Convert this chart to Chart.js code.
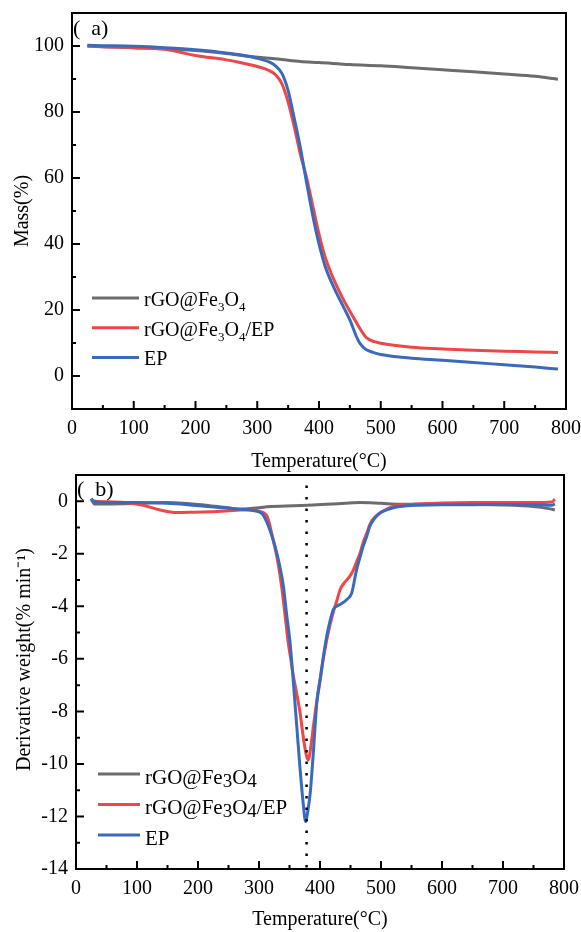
<!DOCTYPE html>
<html>
<head>
<meta charset="utf-8">
<script src="https://cdn.jsdelivr.net/npm/chart.js@4.4.1/dist/chart.umd.min.js"></script>
<style>
  body { margin: 0; background: #fff; }
  canvas { position: absolute; left: 0; }
  #tga { top: 0; }
  #dtg { top: 462px; }
</style>
</head>
<body>
<canvas id="tga" width="581" height="474"></canvas>
<canvas id="dtg" width="581" height="470"></canvas>
<script>
// ---- data ----
const seriesNames = ['rGO@Fe₃O₄', 'rGO@Fe₃O₄/EP', 'EP']
const xTicks = [0, 100, 200, 300, 400, 500, 600, 700, 800]
const massTicks = [0, 20, 40, 60, 80, 100]
const dtgTicks = [-14, -12, -10, -8, -6, -4, -2, 0]
const peakTemp = 378

// (a) TGA
const tgaTempGrey = [25, 50, 100, 150, 200, 250, 290, 320, 340, 370, 400, 450, 500, 550, 600, 650, 700, 750, 787]
const tgaGrey = [100, 99.8, 99.5, 99.2, 98.6, 97.7, 96.8, 96.3, 95.9, 95.3, 95.0, 94.4, 94.0, 93.4, 92.8, 92.2, 91.5, 90.8, 89.9]

const tgaTempRed = [25, 50, 100, 150, 175, 200, 250, 272, 300, 320, 330, 340, 350, 360, 370, 380, 390, 400, 410, 420, 430, 440, 450, 460, 465, 470, 475, 480, 485, 490, 500, 550, 600, 650, 700, 750, 787]
const tgaRed = [100, 99.8, 99.5, 99.0, 98.1, 97.1, 95.8, 95.0, 93.8, 92.5, 91.2, 88.5, 83, 75.5, 67, 60, 51.5, 43, 36, 31, 26.8, 23, 19.6, 16.4, 14.8, 13.3, 12.0, 11.2, 10.7, 10.4, 9.9, 8.7, 8.2, 7.8, 7.5, 7.3, 7.1]

const tgaTempBlue = [25, 50, 100, 150, 200, 250, 300, 320, 330, 340, 350, 360, 370, 380, 390, 400, 410, 420, 430, 440, 450, 455, 460, 465, 470, 475, 480, 490, 500, 550, 600, 650, 700, 750, 787]
const tgaBlue = [100.2, 100.1, 99.9, 99.5, 98.9, 97.9, 96.3, 95.1, 93.9, 91.7, 86.5, 78, 69, 58.5, 48.5, 40, 33.2, 28.5, 24.5, 20.8, 17, 14.6, 12.2, 10.3, 9.0, 8.2, 7.7, 7.0, 6.5, 5.4, 4.8, 4.1, 3.4, 2.7, 2.1]

// (b) DTG
const dtgTempGrey = [25, 27, 30, 60, 100, 150, 200, 250, 270, 290, 320, 380, 430, 465, 500, 530, 600, 650, 700, 750, 775, 785]
const dtgGrey = [0.1, 0.0, -0.1, -0.1, -0.08, -0.05, -0.12, -0.25, -0.3, -0.27, -0.2, -0.15, -0.09, -0.05, -0.08, -0.11, -0.11, -0.12, -0.14, -0.2, -0.28, -0.33]

const dtgTempRed = [25, 30, 50, 80, 110, 138, 165, 190, 220, 250, 269, 290, 300, 313, 323, 330, 337, 343, 348, 352, 356, 360, 364, 367, 371, 374, 378, 381, 384, 389, 393, 397, 401, 405, 410, 416, 422, 428, 433, 440, 449, 455, 460, 466, 471, 477, 482, 490, 503, 520, 550, 600, 650, 700, 750, 780, 785]
const dtgRed = [0.05, 0.0, -0.02, -0.05, -0.15, -0.33, -0.43, -0.42, -0.4, -0.36, -0.33, -0.33, -0.38, -0.56, -1.45, -2.2, -3.23, -4.4, -5.4, -6.0, -6.6, -7.1, -7.6, -8.0, -8.7, -9.2, -9.7, -9.85, -9.5, -8.6, -7.9, -7.3, -6.7, -6.05, -5.4, -4.75, -4.2, -3.75, -3.36, -3.1, -2.85, -2.6, -2.3, -1.95, -1.55, -1.2, -0.87, -0.6, -0.38, -0.2, -0.12, -0.07, -0.05, -0.05, -0.05, -0.03, 0.08]

const dtgTempBlue = [25, 28, 35, 50, 100, 150, 192, 240, 270, 290, 300, 306, 313, 318, 323, 329, 334, 340, 345, 351, 355, 362, 367, 372, 376.5, 380, 384, 389, 395, 400, 405, 411, 416, 422, 427, 435, 444, 452, 460, 466, 471, 477, 482, 488, 493, 500, 509, 520, 531, 560, 600, 650, 700, 750, 780, 785]
const dtgBlue = [0.1, 0.02, -0.03, -0.05, -0.05, -0.08, -0.15, -0.25, -0.3, -0.35, -0.4, -0.5, -0.8, -1.1, -1.45, -1.95, -2.47, -3.23, -4.25, -5.4, -6.5, -8.6, -10.1, -11.4, -12.2, -11.8, -11.1, -9.6, -7.6, -6.8, -6.0, -5.14, -4.6, -4.12, -4.0, -3.9, -3.74, -3.49, -2.6, -2.1, -1.7, -1.3, -0.94, -0.7, -0.56, -0.42, -0.33, -0.25, -0.2, -0.15, -0.13, -0.13, -0.12, -0.13, -0.15, -0.1]

// ---- styling ----
const FONT = '"Liberation Serif", "Times New Roman", serif'
const GREY = 'rgb(108,108,110)'
const RED = 'rgb(240,70,72)'
const BLUE = 'rgb(58,106,190)'

function points(temps, vals) {
  return temps.map((t, i) => ({ x: t, y: vals[i] }))
}

function lineSet(label, color, temps, vals, order) {
  return {
    label, order,
    data: points(temps, vals),
    borderColor: color,
    borderWidth: 3,
    pointRadius: 0,
    cubicInterpolationMode: 'monotone',
    fill: false
  }
}

// draws label text, turning unicode subscripts into lowered small digits
function drawLabel(ctx, text, x, y, o) {
  ctx.textBaseline = 'alphabetic'
  for (const ch of text) {
    const code = ch.charCodeAt(0)
    const sub = code >= 0x2080 && code <= 0x2089
    const c = sub ? String.fromCharCode(code - 0x2080 + 48) : ch
    ctx.font = (sub ? o.subSize : o.size) + 'px ' + FONT
    ctx.fillText(c, x, sub ? y + o.subShift : y)
    x += ctx.measureText(c).width
  }
}

// box around plot, inward ticks, panel tag and the legend inside the plot
const frame = {
  id: 'frame',
  afterDraw(chart, args, o) {
    const { ctx, chartArea: a, scales } = chart
    ctx.save()
    ctx.strokeStyle = '#000'
    ctx.lineWidth = 2

    // inward tick marks, long on labelled values
    ctx.beginPath()
    scales.x.ticks.forEach(t => {
      const px = scales.x.getPixelForValue(t.value)
      const len = o.xMajor.includes(t.value) ? 8 : 4
      ctx.moveTo(px, a.bottom)
      ctx.lineTo(px, a.bottom - len)
    })
    scales.y.ticks.forEach(t => {
      const py = scales.y.getPixelForValue(t.value)
      const len = o.yMajor.includes(t.value) ? 8 : 4
      ctx.moveTo(a.left, py)
      ctx.lineTo(a.left + len, py)
    })
    ctx.stroke()

    ctx.strokeRect(a.left, a.top, a.right - a.left, a.bottom - a.top)

    ctx.fillStyle = '#000'
    ctx.font = '22px ' + FONT
    ctx.textBaseline = 'middle'
    ctx.fillText(o.tag, a.left + 1, a.top + o.tagY)

    let row = 0
    chart.data.datasets.forEach(ds => {
      if (!ds.label) return
      const y = a.top + o.legY + row * o.legGap
      ctx.strokeStyle = ds.borderColor
      ctx.lineWidth = 3
      ctx.beginPath()
      ctx.moveTo(a.left + o.legX, y)
      ctx.lineTo(a.left + o.legX + o.legLen, y)
      ctx.stroke()
      drawLabel(ctx, ds.label, a.left + o.legX + o.legLen + 5, y + o.base, o)
      row++
    })
    ctx.restore()
  }
}

function xAxis(height) {
  return {
    type: 'linear', min: 0, max: 800,
    ticks: {
      stepSize: 50, padding: 8, color: '#000', autoSkip: false, maxRotation: 0,
      font: { family: FONT, size: 20 },
      callback: v => xTicks.includes(v) ? v : ''
    },
    grid: { drawOnChartArea: false, drawTicks: false },
    border: { color: '#000', width: 2 },
    title: {
      display: true, text: 'Temperature(°C)', color: '#000',
      font: { family: FONT, size: 20 }, padding: { top: 0, bottom: 0 }
    },
    afterFit: s => { s.height = height; s.paddingLeft = 0; s.paddingRight = 0 }
  }
}

function yAxis(min, max, step, labels, title, width, titlePad) {
  return {
    min, max,
    ticks: {
      stepSize: step, padding: 8, color: '#000', autoSkip: false,
      font: { family: FONT, size: 20 },
      callback: v => labels.includes(v) ? v : ''
    },
    grid: { drawOnChartArea: false, drawTicks: false },
    border: { color: '#000', width: 2 },
    title: {
      display: true, text: title, color: '#000',
      font: { family: FONT, size: 20 }, padding: { top: titlePad, bottom: 0 }
    },
    afterFit: s => { s.width = width; s.paddingTop = 0; s.paddingBottom = 0 }
  }
}

const baseOpts = {
  responsive: false,
  animation: false,
  devicePixelRatio: 1
}

// ================= (a) TGA =================
new Chart(document.getElementById('tga'), {
  type: 'line',
  data: {
    datasets: [
      lineSet(seriesNames[0], GREY, tgaTempGrey, tgaGrey, 3),
      lineSet(seriesNames[1], RED, tgaTempRed, tgaRed, 2),
      lineSet(seriesNames[2], BLUE, tgaTempBlue, tgaBlue, 1)
    ]
  },
  options: {
    ...baseOpts,
    layout: { padding: { top: 13, right: 15, left: 0, bottom: 0 } },
    scales: {
      x: xAxis(65),
      y: yAxis(-10, 110, 10, massTicks, 'Mass(%)', 72, 11)
    },
    plugins: {
      legend: { display: false },
      tooltip: { enabled: false },
      frame: {
        xMajor: xTicks, yMajor: massTicks,
        tag: '(  a)', tagY: 16, legX: 20, legLen: 47, legY: 285, legGap: 29.7, base: 8, size: 20, subSize: 13, subShift: 5
      }
    }
  },
  plugins: [frame]
})

// ================= (b) DTG =================
new Chart(document.getElementById('dtg'), {
  type: 'line',
  data: {
    datasets: [
      lineSet(seriesNames[0], GREY, dtgTempGrey, dtgGrey, 3),
      lineSet(seriesNames[1], RED, dtgTempRed, dtgRed, 2),
      lineSet(seriesNames[2], BLUE, dtgTempBlue, dtgBlue, 1),
      {
        label: '', order: 0,
        data: [{ x: peakTemp, y: 0.6 }, { x: peakTemp, y: -14 }],
        borderColor: '#000', borderWidth: 2.5, borderDash: [2.5, 9],
        pointRadius: 0, fill: false
      }
    ]
  },
  options: {
    ...baseOpts,
    layout: { padding: { top: 13, right: 17, left: 0, bottom: 0 } },
    scales: {
      x: xAxis(63),
      y: yAxis(-14, 1, 1, dtgTicks, '     Derivative weight(% min⁻¹)', 76, 13)
    },
    plugins: {
      legend: { display: false },
      tooltip: { enabled: false },
      frame: {
        xMajor: xTicks, yMajor: dtgTicks,
        tag: '(  b)', tagY: 15, legX: 22, legLen: 42, legY: 299, legGap: 30.5, base: 9.5, size: 21, subSize: 19, subShift: 3
      }
    }
  },
  plugins: [frame]
})
</script>
</body>
</html>
